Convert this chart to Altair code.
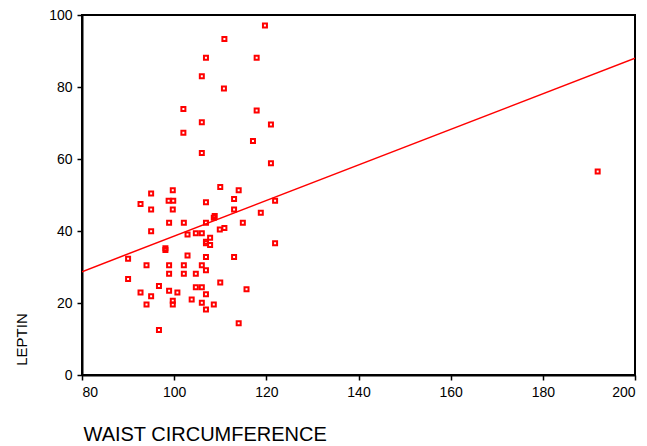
import altair as alt
import pandas as pd

waist = [119.7, 110.9, 106.9, 117.9, 106.0, 110.8, 102.0, 117.9, 106.0, 121.0, 102.0, 117.1, 106.0, 121.0,
         110.0, 114.0, 99.7, 95.0, 98.8, 99.8, 92.7, 106.9, 113.0, 121.9, 95.0, 99.7, 113.0, 118.8, 108.6, 108.8,
         98.9, 102.1, 106.9, 114.9, 95.0, 109.9, 110.9, 102.9, 104.7, 106.0, 107.8, 106.9, 106.9, 107.8, 121.9,
         98.1, 98.1, 90.0, 102.9, 106.9, 113.0, 94.0, 98.9, 102.1, 106.0, 106.9, 90.0, 98.9, 102.1, 104.7,
         110.0, 96.7, 104.7, 106.0, 115.7, 92.7, 98.9, 100.7, 95.0, 106.9, 103.8, 94.0, 99.7, 99.7, 106.0,
         108.6, 106.9, 114.0, 96.7, 191.9]
leptin = [97.1, 93.3, 88.1, 88.1, 83.0, 79.6, 73.9, 73.5, 70.2, 69.6, 67.3, 65.0, 61.7, 58.8,
          52.2, 51.3, 51.3, 50.4, 48.4, 48.4, 47.5, 48.0, 48.9, 48.4, 46.0, 46.0, 46.0, 45.1, 43.7, 44.2,
          42.3, 42.3, 42.3, 42.3, 39.9, 40.4, 40.8, 39.0, 39.4, 39.4, 38.1, 37.0, 36.6, 36.1, 36.6,
          35.2, 34.7, 32.3, 33.2, 32.8, 32.8, 30.5, 30.5, 30.5, 30.5, 29.1, 26.7, 28.1, 28.1, 28.1,
          25.7, 24.7, 24.4, 24.4, 23.8, 22.9, 23.4, 22.9, 21.9, 22.4, 21.0, 19.6, 20.6, 19.6, 20.1,
          19.6, 18.2, 14.4, 12.5, 56.5]

fit_x = [80, 200]
fit_y = [28.7, 88.0]

x_ticks = [80, 100, 120, 140, 160, 180, 200]
y_ticks = [0, 20, 40, 60, 80, 100]

pts = pd.DataFrame({"waist": waist, "leptin": leptin})
fit = pd.DataFrame({"waist": fit_x, "leptin": fit_y})

FONT = "Liberation Sans"

x_enc = alt.X("waist:Q", scale=alt.Scale(domain=[80, 200], nice=False, zero=False),
              axis=alt.Axis(values=x_ticks, title="WAIST CIRCUMFERENCE", grid=False,
                            titleX=1, titleY=65, titleAlign="left", titleBaseline="alphabetic",
                            titleFontSize=20, titleFontWeight="normal", titleFont=FONT, titleColor="black",
                            labelFont=FONT, labelFontSize=14, labelColor="black", labelPadding=5,
                            tickSize=5, tickColor="black", tickWidth=1.5,
                            domainColor="black", domainWidth=2))
y_enc = alt.Y("leptin:Q", scale=alt.Scale(domain=[0, 100], nice=False),
              axis=alt.Axis(values=y_ticks, title="LEPTIN", grid=False,
                            titleX=-61, titleY=324, titleAngle=270, titleAlign="center", titleBaseline="middle",
                            titleFontSize=15, titleFontWeight="normal", titleFont=FONT, titleColor="black",
                            labelFont=FONT, labelFontSize=14, labelColor="black", labelPadding=5,
                            tickSize=5, tickColor="black", tickWidth=1.5,
                            domainColor="black", domainWidth=2))

points = alt.Chart(pts).mark_point(shape="square", filled=False, size=16, strokeWidth=2,
                                   color="#ff0000", opacity=1).encode(x=x_enc, y=y_enc)
line = alt.Chart(fit).mark_line(color="#ff0000", strokeWidth=1.5, clip=True).encode(x=x_enc, y=y_enc)

chart = alt.layer(points, line).properties(
    width=553, height=360,
    autosize=alt.AutoSizeParams(type="none"),
    padding={"left": 82, "top": 15, "right": 12, "bottom": 71},
    background="white",
).configure_view(stroke="black", strokeWidth=2)

chart.save("out.html", embed_options={"renderer": "svg", "actions": False})
